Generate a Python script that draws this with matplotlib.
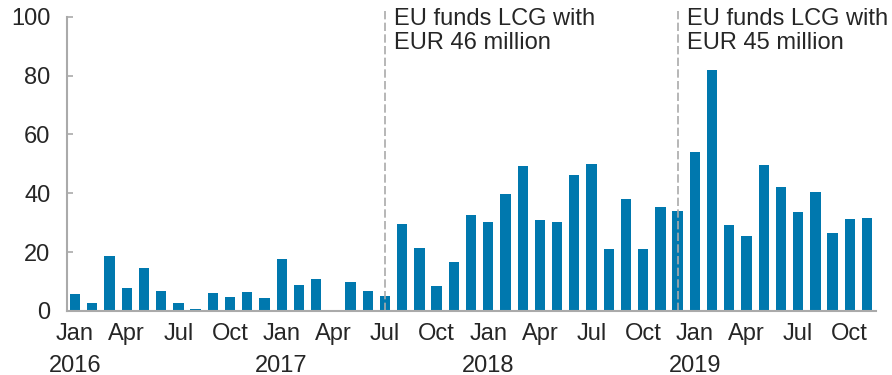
import matplotlib
matplotlib.use("Agg")
import matplotlib.pyplot as plt
import matplotlib.transforms as mtransforms
import numpy as np

plt.rcParams['font.family'] = ['Liberation Sans', 'DejaVu Sans']

# Monthly values, Jan 2016 - Nov 2019
months = ['Jan', 'Feb', 'Mar', 'Apr', 'May', 'Jun',
          'Jul', 'Aug', 'Sep', 'Oct', 'Nov', 'Dec']
years = [2016, 2017, 2018, 2019]
values = [5.7, 2.6, 18.6, 7.8, 14.6, 6.8, 2.6, 0.6, 6.0, 4.8, 6.6, 4.5,
          17.6, 8.7, 10.9, 0.3, 9.9, 6.9, 5.2, 29.6, 21.4, 8.6, 16.8, 32.6,
          30.2, 39.8, 49.2, 30.9, 30.2, 46.3, 49.8, 21.2, 38.2, 21.2, 35.4, 34.1,
          53.9, 82.0, 29.3, 25.5, 49.7, 42.0, 33.7, 40.4, 26.6, 31.1, 31.6]
labels = [months[i % 12] for i in range(len(values))]

# Funding events: (month index, text)
events = [(18, 'EU funds LCG with\nEUR 46 million'),
          (35, 'EU funds LCG with\nEUR 45 million')]

text_color = '#262626'
axis_color = '#aaaaaa'
bar_color = '#0078ae'
fs = 17

fig = plt.figure(figsize=(8.92, 3.75), dpi=100)
ax = fig.add_axes([0.0751, 0.1707, 0.9069, 0.7848])

x = np.arange(len(values))
ax.bar(x, values, width=0.6, color=bar_color, zorder=2)

ax.set_xlim(-0.47, len(values) - 0.48)
ax.set_ylim(0, 100)
ax.set_yticks(range(0, 101, 20))

for spine in ['top', 'right']:
    ax.spines[spine].set_visible(False)
for spine in ['left', 'bottom']:
    ax.spines[spine].set_color(axis_color)
    ax.spines[spine].set_linewidth(1.5)

ax.tick_params(axis='y', direction='in', length=4, width=1.2, color=axis_color,
               labelsize=fs, labelcolor=text_color, pad=12)

quarter = [i for i in range(len(values)) if i % 3 == 0]
ax.set_xticks(quarter)
ax.set_xticklabels([labels[i] for i in quarter])
ax.tick_params(axis='x', length=0, labelsize=fs, labelcolor=text_color, pad=8.5)

# Year labels under each January
trans = mtransforms.blended_transform_factory(ax.transData, ax.transAxes)
for k, yr in enumerate(years):
    ax.text(k * 12, -0.148, str(yr), transform=trans, ha='center', va='top',
            fontsize=fs, color=text_color)

for idx, txt in events:
    ax.axvline(idx, ymin=0, ymax=1.02, color=axis_color, linestyle=(0, (5, 2)),
               linewidth=1.2, zorder=3, clip_on=False)
    ax.text(idx + 0.55, 1.03, txt, transform=trans, ha='left', va='top',
            fontsize=fs, color=text_color, linespacing=1.1)

fig.savefig('out.png', dpi=100)
